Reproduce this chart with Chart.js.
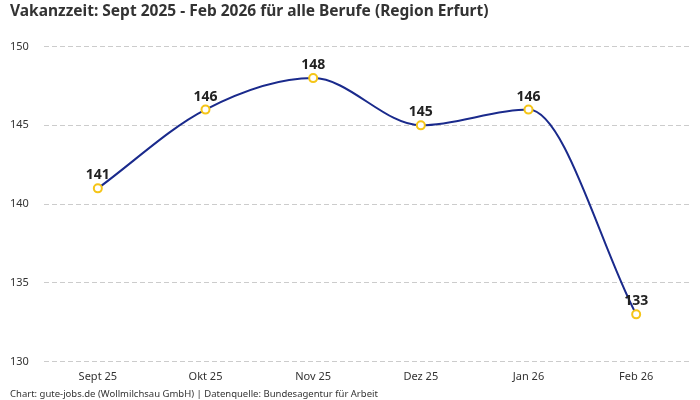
<!DOCTYPE html>
<html lang="de">
<head>
    <meta charset="UTF-8">
    <title>Vakanzzeit Erfurt</title>
    <script src="https://cdn.jsdelivr.net/npm/chart.js"></script>
    <style>
        html, body { margin: 0; padding: 0; background: #fff; }
        #wrap { width: 700px; height: 400px; }
    </style>
</head>
<body>
    <div id="wrap"><canvas id="vakanzChart"></canvas></div>

    <script>
        // Daten
        const months = ['Sept 25', 'Okt 25', 'Nov 25', 'Dez 25', 'Jan 26', 'Feb 26'];
        const vakanzTage = [141, 146, 148, 145, 146, 133];
        const yTicks = [130, 135, 140, 145, 150];

        const fontFam = "'Noto Sans', 'Open Sans', sans-serif";

        // Werte über die Punkte schreiben
        const valueLabels = {
            id: 'valueLabels',
            afterDatasetsDraw(chart) {
                const ctx = chart.ctx;
                const meta = chart.getDatasetMeta(0);
                ctx.save();
                ctx.font = 'bold 14px ' + fontFam;
                ctx.fillStyle = '#222';
                ctx.textAlign = 'center';
                ctx.textBaseline = 'bottom';
                meta.data.forEach((pt, i) => {
                    ctx.fillText(String(vakanzTage[i]), pt.x, pt.y - 6);
                });
                ctx.restore();
            }
        };

        const ctxV = document.getElementById('vakanzChart').getContext('2d');
        const vakanzChart = new Chart(ctxV, {
            type: 'line',
            data: {
                labels: months,
                datasets: [{
                    label: 'Vakanzzeit',
                    data: vakanzTage,
                    borderColor: '#1a2a8c',
                    borderWidth: 2,
                    cubicInterpolationMode: 'monotone',
                    pointRadius: 4,
                    pointBorderWidth: 2,
                    pointBackgroundColor: '#fff',
                    pointBorderColor: '#f5c518',
                    fill: false
                }]
            },
            options: {
                responsive: true,
                maintainAspectRatio: false,
                animation: false,
                layout: { padding: { left: 10, right: 10, top: 2, bottom: 0 } },
                plugins: {
                    legend: { display: false },
                    tooltip: { enabled: false },
                    title: {
                        display: true,
                        text: 'Vakanzzeit: Sept 2025 - Feb 2026 für alle Berufe (Region Erfurt)',
                        align: 'start',
                        color: '#333',
                        font: { family: fontFam, size: 15.5, weight: 'bold' },
                        padding: { top: 0, bottom: 26 }
                    },
                    subtitle: {
                        display: true,
                        position: 'bottom',
                        align: 'start',
                        text: 'Chart: gute-jobs.de (Wollmilchsau GmbH) | Datenquelle: Bundesagentur für Arbeit',
                        color: '#333',
                        font: { family: fontFam, size: 9.5 },
                        padding: { top: 4, bottom: 0 }
                    }
                },
                scales: {
                    x: {
                        offset: true,
                        grid: { display: false },
                        border: { display: false },
                        ticks: { color: '#333', font: { family: fontFam, size: 11, lineHeight: 1 }, padding: 2 }
                    },
                    y: {
                        min: 130,
                        max: 150,
                        afterBuildTicks: (axis) => { axis.ticks = yTicks.map(v => ({ value: v })); },
                        afterFit: (axis) => { axis.width = 34; },
                        grid: { color: '#cccccc', drawTicks: false },
                        border: { display: false, dash: [5, 3] },
                        ticks: { color: '#333', font: { family: fontFam, size: 11 }, padding: 14, crossAlign: 'far' }
                    }
                }
            },
            plugins: [valueLabels]
        });
    </script>
</body>
</html>
